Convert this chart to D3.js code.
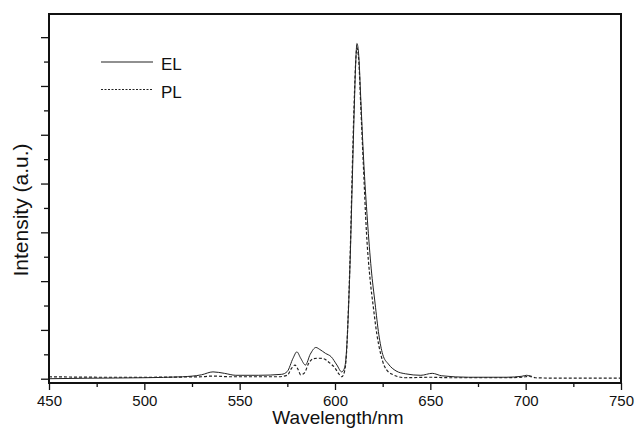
<!DOCTYPE html>
<html>
<head>
<meta charset="utf-8">
<script src="https://cdn.jsdelivr.net/npm/d3@7"></script>
<style>
  body { margin: 0; background: #fff; }
  svg text { font-family: "Liberation Sans", Arial, sans-serif; fill: #111; }
</style>
</head>
<body>
<svg id="chart" width="636" height="438"></svg>
<script>
// EL spectrum (wavelength nm, intensity a.u.)
const elWave = [450, 470, 500, 520, 530, 536, 542, 548, 560, 572, 575, 578, 580, 582, 584.5, 587, 590, 592, 595, 598, 601, 603.5, 605, 606, 607, 608, 609, 610, 611, 611.5, 612.5, 613.5, 615, 617, 619, 621, 623, 625, 628, 632, 637, 645, 651, 656, 670, 690, 698, 700.5, 703];
const elValue = [0.0, 0.01, 0.02, 0.04, 0.08, 0.14, 0.11, 0.07, 0.07, 0.09, 0.15, 0.42, 0.55, 0.42, 0.28, 0.5, 0.64, 0.6, 0.52, 0.45, 0.28, 0.14, 0.22, 0.55, 1.35, 2.5, 3.95, 5.4, 6.6, 6.87, 6.6, 5.75, 4.5, 3.25, 2.25, 1.55, 0.9, 0.5, 0.3, 0.16, 0.1, 0.07, 0.11, 0.06, 0.03, 0.03, 0.05, 0.07, 0.03];

// PL spectrum
const plWave = [450, 480, 500, 530, 536, 545, 570, 575, 577, 579, 580.5, 582, 584, 586, 588.5, 591, 594, 597, 600, 602, 603.5, 605, 606, 607, 608, 609, 610, 611, 611.5, 612.5, 613.5, 614.8, 616.5, 618.5, 620, 622, 624, 626, 630, 637, 650, 660, 690, 700, 702, 705, 720, 750];
const plValue = [0.04, 0.03, 0.03, 0.04, 0.055, 0.04, 0.04, 0.07, 0.2, 0.28, 0.2, 0.08, 0.12, 0.3, 0.41, 0.42, 0.41, 0.33, 0.22, 0.1, 0.04, 0.15, 0.5, 1.4, 2.6, 4.2, 5.6, 6.6, 6.78, 6.5, 5.6, 4.45, 3.0, 2.0, 1.5, 0.9, 0.5, 0.25, 0.09, 0.02, 0.03, 0.02, 0.02, 0.04, 0.06, 0.02, 0.01, 0.01];

const xMajor = [450, 500, 550, 600, 650, 700, 750];
const xMinor = [475, 525, 575, 625, 675, 725];
const yMajor = [0, 1, 2, 3, 4, 5, 6, 7];
const yMinor = [0.5, 1.5, 2.5, 3.5, 4.5, 5.5, 6.5];

const legendItems = ["EL", "PL"];

const svg = d3.select("#chart");
const margin = { left: 49, right: 621, top: 14, bottom: 383 };

const x = d3.scaleLinear().domain([450, 750]).range([margin.left, margin.right]);
const y = d3.scaleLinear().domain([-0.088, 7.475]).range([margin.bottom, margin.top]);

// x axis ticks
const xAxisG = svg.append("g").attr("transform", `translate(0,${margin.bottom})`);
xAxisG.call(d3.axisBottom(x).tickValues(xMajor).tickSize(7).tickPadding(5).tickFormat(d3.format("d")));
xAxisG.append("g").call(d3.axisBottom(x).tickValues(xMinor).tickSize(4).tickFormat(""));
xAxisG.selectAll(".domain").remove();
xAxisG.selectAll("line").attr("stroke", "#111").attr("stroke-width", 1.3);
xAxisG.selectAll("text").style("font-size", "15px").attr("fill", "#111");

// y axis ticks (no labels)
const yAxisG = svg.append("g").attr("transform", `translate(${margin.left},0)`);
yAxisG.call(d3.axisLeft(y).tickValues(yMajor).tickSize(8).tickFormat(""));
yAxisG.append("g").call(d3.axisLeft(y).tickValues(yMinor).tickSize(5).tickFormat(""));
yAxisG.selectAll(".domain").remove();
yAxisG.selectAll("line").attr("stroke", "#111").attr("stroke-width", 1.3);

// spectra
const line = d3.line()
    .x(d => x(d[0]))
    .y(d => y(d[1]))
    .curve(d3.curveMonotoneX);

svg.append("path")
    .datum(d3.zip(elWave, elValue))
    .attr("d", line)
    .attr("fill", "none")
    .attr("stroke", "#222")
    .attr("stroke-width", 1);

svg.append("path")
    .datum(d3.zip(plWave, plValue))
    .attr("d", line)
    .attr("fill", "none")
    .attr("stroke", "#222")
    .attr("stroke-width", 1.2)
    .attr("stroke-dasharray", "3,2");

// frame
svg.append("rect")
    .attr("x", margin.left)
    .attr("y", margin.top)
    .attr("width", margin.right - margin.left)
    .attr("height", margin.bottom - margin.top)
    .attr("fill", "none")
    .attr("stroke", "#111")
    .attr("stroke-width", 2);

// legend
const legend = svg.append("g");
legendItems.forEach((name, i) => {
    const ly = 62 + i * 27.5;
    legend.append("line")
        .attr("x1", 101).attr("x2", 153)
        .attr("y1", ly).attr("y2", ly)
        .attr("stroke", "#222")
        .attr("stroke-width", 1.2)
        .attr("stroke-dasharray", i === 0 ? null : "2,1.5");
    legend.append("text")
        .attr("x", 161)
        .attr("y", ly + 8)
        .style("font-size", "17px")
        .text(name);
});

// axis titles
svg.append("text")
    .attr("x", 338)
    .attr("y", 424)
    .attr("text-anchor", "middle")
    .style("font-size", "19px")
    .text("Wavelength/nm");

svg.append("text")
    .attr("transform", "translate(28,210) rotate(-90)")
    .attr("text-anchor", "middle")
    .style("font-size", "21px")
    .text("Intensity (a.u.)");
</script>
</body>
</html>
